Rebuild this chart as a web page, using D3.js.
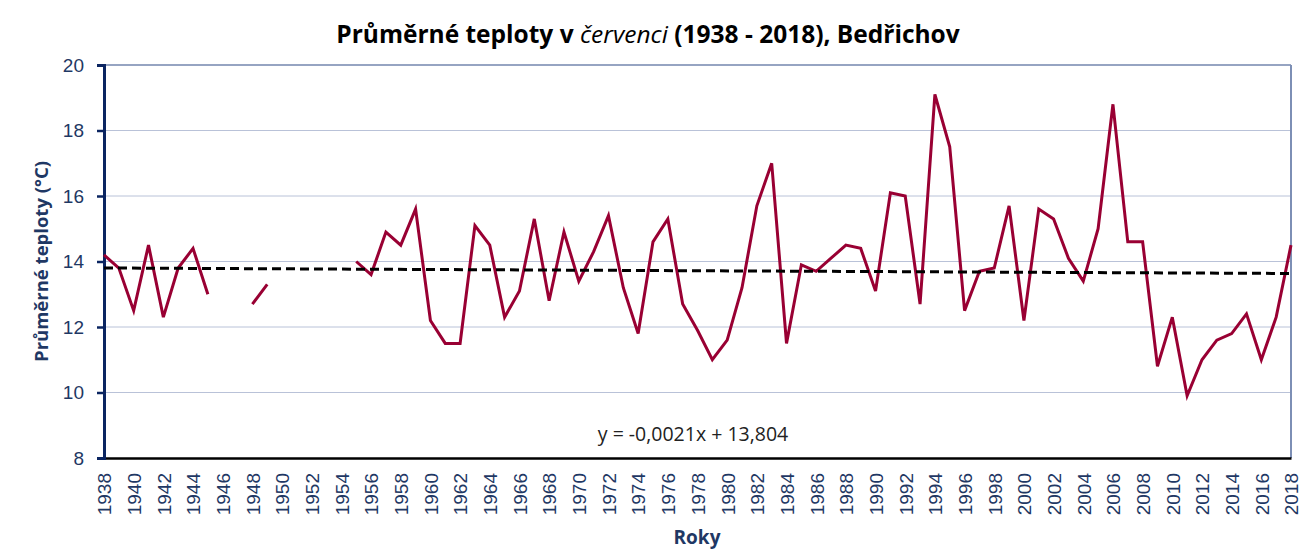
<!DOCTYPE html>
<html>
<head>
<meta charset="utf-8">
<script src="https://cdn.jsdelivr.net/npm/d3@7"></script>
<style>
  body { margin: 0; background: #fff; }
  svg { font-family: "Open Sans", "Noto Sans", sans-serif; }
</style>
</head>
<body>
<svg id="chart"></svg>
<script>
// roky 1938 - 2018, prazdne = chybi mereni
const years = d3.range(1938, 2019);
const temps = [
  14.2, 13.8, 12.5, 14.5, 12.3, 13.8, 14.4, 13.0, null, null,
  12.7, 13.3, null, null, null, null, null, 14.0, 13.6, 14.9,
  14.5, 15.6, 12.2, 11.5, 11.5, 15.1, 14.5, 12.3, 13.1, 15.3,
  12.8, 14.9, 13.4, 14.3, 15.4, 13.2, 11.8, 14.6, 15.3, 12.7,
  11.9, 11.0, 11.6, 13.2, 15.7, 17.0, 11.5, 13.9, 13.7, 14.1,
  14.5, 14.4, 13.1, 16.1, 16.0, 12.7, 19.1, 17.5, 12.5, 13.7,
  13.8, 15.7, 12.2, 15.6, 15.3, 14.1, 13.4, 15.0, 18.8, 14.6,
  14.6, 10.8, 12.3, 9.9, 11.0, 11.6, 11.8, 12.4, 11.0, 12.3,
  14.5
];
const yTicks = [8, 10, 12, 14, 16, 18, 20];
const xTicks = d3.range(1938, 2019, 2);
// linearni trend z Excelu, x = poradi roku (1..81)
const trendSlope = -0.0021;
const trendIntercept = 13.804;
const trendLabel = "y = -0,0021x + 13,804";

const width = 1299;
const height = 550;
const margin = { top: 65, right: 8, bottom: 92, left: 104 };

const svg = d3.select("#chart").attr("width", width).attr("height", height);

const xScale = d3.scaleLinear()
  .domain([1938, 2018])
  .range([margin.left, width - margin.right]);

const yScale = d3.scaleLinear()
  .domain([8, 20])
  .range([height - margin.bottom, margin.top]);

const navy = "#1f3864";

// mrizka
svg.append("g")
  .selectAll("line")
  .data(yTicks.filter((d) => d > 8 && d < 20))
  .enter()
  .append("line")
  .attr("x1", margin.left)
  .attr("x2", width - margin.right)
  .attr("y1", (d) => yScale(d))
  .attr("y2", (d) => yScale(d))
  .attr("stroke", "#b9c2d8")
  .attr("stroke-width", 1);

// horni a prava hrana
svg.append("line")
  .attr("x1", margin.left).attr("x2", width - margin.right)
  .attr("y1", yScale(20)).attr("y2", yScale(20))
  .attr("stroke", "#2f4a85").attr("stroke-width", 1.2);
svg.append("line")
  .attr("x1", width - margin.right).attr("x2", width - margin.right)
  .attr("y1", yScale(20)).attr("y2", yScale(8))
  .attr("stroke", "#7d8fb5").attr("stroke-width", 2);

// osa x
const xAxis = d3.axisBottom(xScale)
  .tickValues(xTicks)
  .tickSize(0)
  .tickFormat(d3.format("d"));

const gx = svg.append("g")
  .attr("transform", `translate(0, ${yScale(8)})`)
  .call(xAxis);
gx.select(".domain").attr("stroke", "#000").attr("stroke-width", 2.5);
gx.selectAll("text")
  .attr("fill", navy)
  .style("font-size", "19px")
  .attr("transform", "rotate(-90)")
  .attr("text-anchor", "end")
  .attr("x", -15)
  .attr("y", 0)
  .attr("dy", "0.36em");

// osa y
const yAxis = d3.axisLeft(yScale)
  .tickValues(yTicks)
  .tickSize(7)
  .tickPadding(13);

const gy = svg.append("g")
  .attr("transform", `translate(${margin.left}, 0)`)
  .call(yAxis);
gy.select(".domain").attr("stroke", "#0b2561").attr("stroke-width", 3);
gy.selectAll(".tick line").attr("stroke", "#0b2561").attr("stroke-width", 2.5);
gy.selectAll("text").attr("fill", navy).style("font-size", "19px");

// data
const line = d3.line()
  .defined((d) => d[1] !== null)
  .x((d) => xScale(d[0]))
  .y((d) => yScale(d[1]));

svg.append("path")
  .datum(years.map((y, i) => [y, temps[i]]))
  .attr("d", line)
  .attr("fill", "none")
  .attr("stroke", "#990033")
  .attr("stroke-width", 3)
  .attr("stroke-linejoin", "miter");

// trend
const trend = [1, years.length].map((i) => [years[i - 1], trendSlope * i + trendIntercept]);
svg.append("path")
  .datum(trend)
  .attr("d", d3.line().x((d) => xScale(d[0])).y((d) => yScale(d[1])))
  .attr("fill", "none")
  .attr("stroke", "#000")
  .attr("stroke-width", 3)
  .attr("stroke-dasharray", "9,5");

svg.append("text")
  .attr("x", 693)
  .attr("y", 441)
  .attr("text-anchor", "middle")
  .attr("fill", "#222")
  .style("font-size", "19.5px")
  .text(trendLabel);

// popisky
const title = svg.append("text")
  .attr("x", 648)
  .attr("y", 43)
  .attr("text-anchor", "middle")
  .attr("fill", "#000")
  .style("font-size", "24.5px")
  .style("font-weight", "bold");
title.append("tspan").text("Průměrné teploty v ");
title.append("tspan").style("font-style", "italic").style("font-weight", "normal").text("červenci");
title.append("tspan").text(" (1938 - 2018), Bedřichov");

svg.append("text")
  .attr("transform", `translate(48, ${(yScale(8) + yScale(20)) / 2}) rotate(-90)`)
  .attr("text-anchor", "middle")
  .attr("fill", navy)
  .style("font-size", "18.5px")
  .style("font-weight", "bold")
  .text("Průměrné teploty (°C)");

svg.append("text")
  .attr("x", 697)
  .attr("y", 544)
  .attr("text-anchor", "middle")
  .attr("fill", navy)
  .style("font-size", "19px")
  .style("font-weight", "bold")
  .text("Roky");
</script>
</body>
</html>
